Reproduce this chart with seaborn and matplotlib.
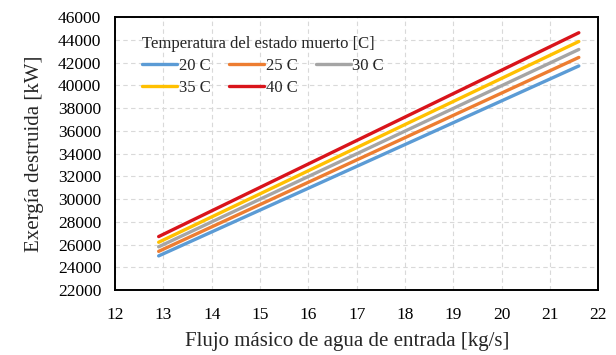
import matplotlib
matplotlib.use("Agg")
import matplotlib.pyplot as plt
import seaborn as sns
import pandas as pd

# Inlet water mass flow [kg/s] (first and last operating points)
flujo = [12.9, 21.6]

# Destroyed exergy [kW] for each dead-state temperature
exergia_20 = [25000, 41700]
exergia_25 = [25400, 42450]
exergia_30 = [25800, 43150]
exergia_35 = [26200, 43850]
exergia_40 = [26700, 44620]

series = {
    "20 C": exergia_20,
    "25 C": exergia_25,
    "30 C": exergia_30,
    "35 C": exergia_35,
    "40 C": exergia_40,
}
colores = ["#5B9BD5", "#ED7D31", "#A5A5A5", "#FFC000", "#D9141B"]

rows = []
for nombre, valores in series.items():
    for x, y in zip(flujo, valores):
        rows.append({"flujo": x, "exergia": y, "T0": nombre})
df = pd.DataFrame(rows)

sns.set_theme(style="white")
plt.rcParams["font.family"] = ["Liberation Serif", "DejaVu Serif"]

fig = plt.figure(figsize=(6.16, 3.55), dpi=100)
ax = fig.add_axes([0.187, 0.183, 0.784, 0.769])

sns.lineplot(data=df, x="flujo", y="exergia", hue="T0",
             palette=colores, linewidth=2.4, ax=ax, legend=True)

ax.set_xlim(12, 22)
ax.set_ylim(22000, 46000)
ax.set_xticks(range(12, 23))
ax.set_yticks(range(22000, 46001, 2000))
ax.tick_params(axis="y", labelsize=12.5, colors="black", length=0, pad=10)
ax.tick_params(axis="x", labelsize=12.5, colors="black", length=0, pad=12)

ax.grid(True, color="#D9D9D9", linestyle=(0, (4, 3)), linewidth=0.8)
for s in ax.spines.values():
    s.set_color("black")
    s.set_linewidth(1.4)

ax.set_xlabel("Flujo másico de agua de entrada [kg/s]", fontsize=15, labelpad=8)
ax.set_ylabel("Exergía destruida [kW]", fontsize=15, labelpad=10)
ax.xaxis.set_label_coords(0.48, -0.155)

# Row-wise legend order for a 3-column layout
handles, labels = ax.get_legend_handles_labels()
orden = [0, 3, 1, 4, 2]
leg = ax.legend([handles[i] for i in orden], [labels[i] for i in orden],
                title="Temperatura del estado muerto [C]",
                ncol=3, frameon=False, loc="upper left",
                bbox_to_anchor=(0.025, 0.985), fontsize=12,
                title_fontsize=12, handlelength=2.1, handletextpad=0.1,
                columnspacing=1.1, labelspacing=0.35)
leg._legend_box.align = "left"

fig.savefig("out.png", dpi=100)
